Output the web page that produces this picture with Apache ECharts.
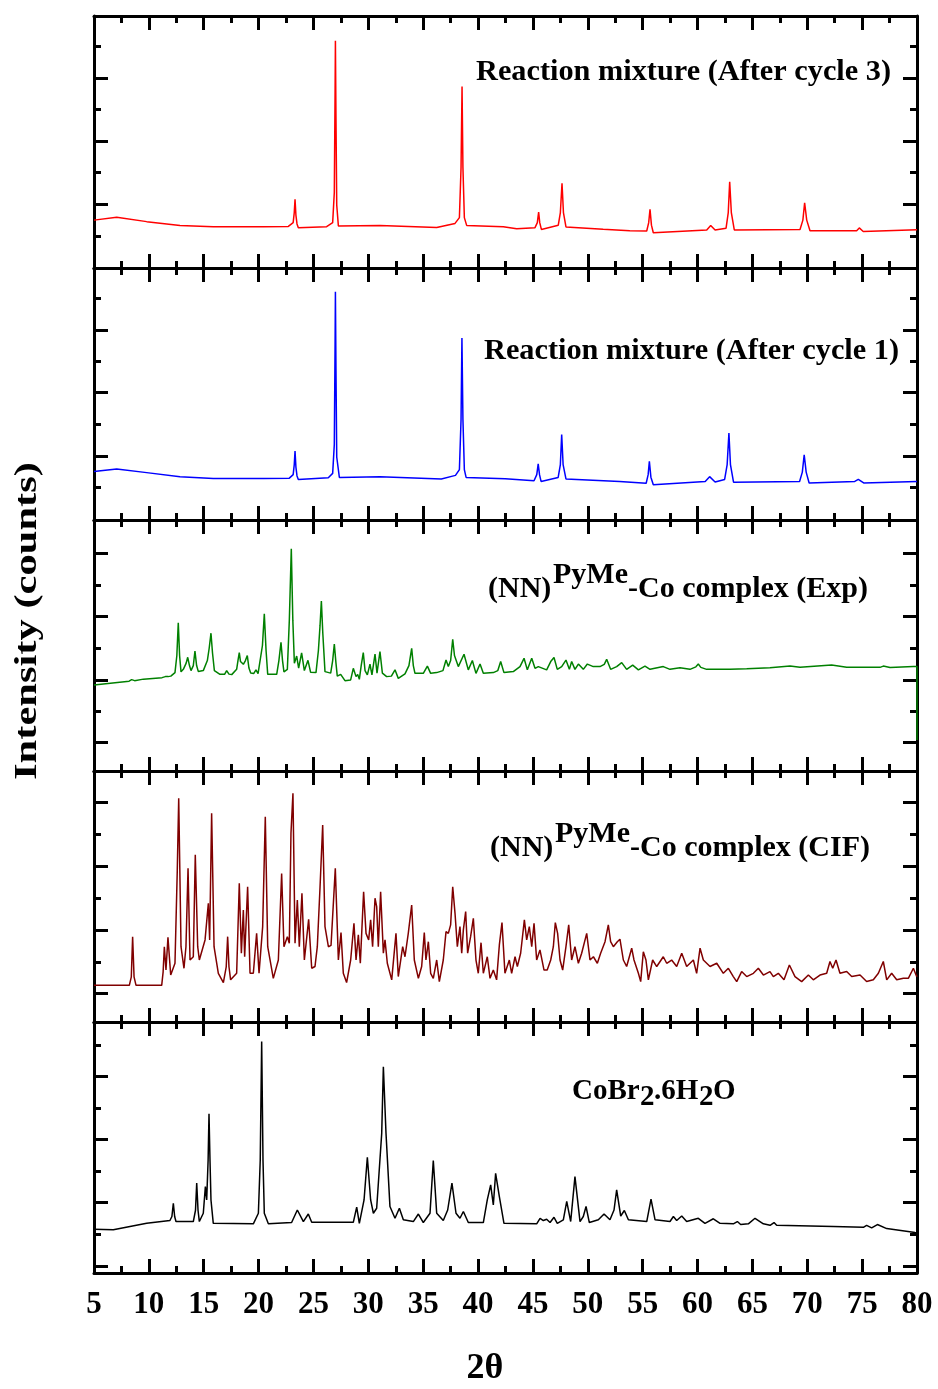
<!DOCTYPE html>
<html><head><meta charset="utf-8">
<script src="https://cdn.jsdelivr.net/npm/echarts@6/dist/echarts.min.js"></script>
<style>html,body{margin:0;padding:0;background:#fff}#c{width:938px;height:1389px}</style>
</head><body><div id="c"></div>
<script>
// ---- DATA (2θ in degrees, intensity in arbitrary units; each panel 0..100) ----
const xTickLabels = [5,10,15,20,25,30,35,40,45,50,55,60,65,70,75,80];

const cycle3 = [[5.0,19.0],[7.07,20.1],[9.8,18.4],[12.84,16.9],[15.87,16.4],[20.43,16.4],[22.71,16.5],[23.15,18],[23.25,22],[23.32,27.3],[23.4,21],[23.5,17.5],[23.62,16.0],[26.2,16.4],[26.75,18],[26.9,30],[26.97,70],[27.0,90.2],[27.05,60],[27.12,25],[27.27,16.7],[31.06,16.9],[36.23,16.1],[37.9,17.7],[38.3,20],[38.45,40],[38.54,72.0],[38.62,40],[38.75,20],[38.96,16.9],[42.3,16.4],[43.52,15.6],[45.19,16.0],[45.4,18],[45.52,22.2],[45.62,18],[45.77,15.3],[47.31,17.0],[47.5,22],[47.65,33.6],[47.78,22],[48.01,16.3],[51.4,15.4],[53.83,14.8],[55.37,14.7],[55.55,18],[55.67,23.3],[55.8,17],[55.97,14.0],[60.84,15.1],[61.2,16.9],[61.6,15.1],[62.6,15.8],[62.8,22],[62.93,34.2],[63.08,22],[63.35,15.1],[69.34,15.3],[69.6,19],[69.76,25.9],[69.95,19],[70.25,14.8],[74.5,14.8],[74.74,15.9],[75.1,14.5],[80,15.2]];

const cycle1 = [[5.0,19.2],[7.07,20.2],[9.8,18.8],[12.84,17.2],[15.87,16.5],[20.43,16.5],[22.8,16.6],[23.15,18],[23.25,22],[23.32,27.4],[23.4,21],[23.5,17.5],[23.62,16.1],[26.35,16.8],[26.75,18.5],[26.9,30],[26.97,70],[27.0,90.6],[27.05,60],[27.12,25],[27.36,16.9],[31.06,17.2],[36.65,16.3],[37.94,17.7],[38.3,20],[38.45,40],[38.53,72.2],[38.62,40],[38.75,20],[38.91,16.9],[42.48,16.4],[45.1,15.6],[45.35,18],[45.48,22.3],[45.6,18],[45.74,15.3],[47.3,16.9],[47.5,22],[47.62,33.9],[47.75,22],[48.01,16.3],[52.9,15.3],[55.32,14.6],[55.5,18],[55.61,23.3],[55.75,17],[55.97,14.0],[60.7,15.3],[61.1,17.2],[61.6,15.1],[62.47,16.1],[62.7,22],[62.86,34.5],[63.0,22],[63.28,15.0],[69.3,15.3],[69.55,19],[69.72,25.9],[69.9,19],[70.17,14.7],[74.33,15.3],[74.65,16.1],[75.14,14.7],[80,15.3]];

const complexExp = [[5.0,34.3],[8.2,35.8],[8.43,36.4],[8.7,36.0],[9.5,36.6],[11.2,37.2],[11.5,37.6],[11.62,38.3],[11.75,37.6],[12.0,37.8],[12.38,39.2],[12.55,46],[12.68,59.1],[12.8,46],[12.93,39.5],[13.14,40.5],[13.4,43],[13.54,45.3],[13.7,42],[13.84,40.0],[14.05,42],[14.2,47.8],[14.35,42],[14.51,39.6],[14.96,40.0],[15.33,44],[15.5,49],[15.66,54.9],[15.8,47],[15.97,40.0],[16.48,38.5],[16.9,38.5],[17.09,40.0],[17.3,38.6],[17.55,38.4],[18.0,40.5],[18.12,44],[18.24,47.2],[18.35,43.6],[18.46,43.2],[18.61,42.5],[18.8,44],[18.97,46.0],[19.12,41],[19.28,39.0],[19.55,38.8],[19.76,40.3],[19.95,38.8],[20.13,39.5],[20.35,50],[20.52,62.6],[20.68,48],[20.83,38.5],[21.65,38.5],[21.85,44],[22.04,51.3],[22.18,44],[22.31,39.5],[22.62,40.5],[22.8,60],[22.98,88.5],[23.12,60],[23.26,42.9],[23.47,45.8],[23.65,41.0],[23.92,47.1],[24.17,40.0],[24.5,44.1],[24.74,39.3],[25.23,39.2],[25.45,48],[25.6,58],[25.72,67.7],[25.85,55],[26.05,39.6],[26.57,39.0],[26.75,44],[26.9,50.6],[27.05,43],[27.17,37.8],[27.48,38.5],[27.87,36.0],[28.39,36.3],[28.63,40.9],[28.88,37.6],[29.03,38.5],[29.18,36.5],[29.35,42],[29.54,47.2],[29.7,40],[29.91,38.3],[30.15,42.6],[30.33,38.3],[30.61,46.6],[30.79,39.0],[31.06,47.6],[31.28,39.0],[31.43,39.7],[31.67,37.6],[32.1,37.8],[32.43,40.3],[32.73,36.9],[33.34,38.7],[33.7,42],[33.95,48.9],[34.1,42],[34.25,38.9],[35.01,38.9],[35.38,41.8],[35.68,38.9],[36.23,39.2],[36.8,40],[37.08,44.2],[37.29,41.6],[37.5,44],[37.69,52.5],[37.85,46],[37.99,45.6],[38.2,41.6],[38.72,46.5],[39.11,40.3],[39.48,44.0],[39.81,38.9],[40.18,42.6],[40.48,38.9],[41.39,39.2],[41.8,40],[42.06,43.6],[42.36,39.2],[43.21,39.6],[43.82,41.6],[44.19,44.9],[44.49,40.3],[44.89,44.9],[45.19,40.9],[45.49,41.6],[46.25,40.3],[46.62,43.6],[46.92,45.2],[47.22,40.5],[47.62,41.6],[48.01,44.2],[48.32,40.5],[48.53,43.6],[48.83,40.5],[49.14,42.6],[49.59,40.5],[49.96,42.6],[50.5,41.6],[51.11,41.6],[51.5,42.5],[51.72,44.5],[52.08,40.5],[52.63,41.6],[53.09,43.2],[53.54,40.5],[54.09,42.2],[54.61,40.3],[55.21,41.8],[55.67,40.5],[56.88,41.6],[57.49,40.5],[58.4,41.1],[59.31,40.5],[59.85,41.5],[60.07,42.6],[60.3,41.3],[60.83,40.5],[62.96,40.5],[64.48,40.7],[66.6,41.1],[68.43,41.8],[69.34,41.3],[72.22,42.2],[73.59,41.3],[76.63,41.3],[76.93,41.8],[77.54,41.2],[79.67,41.6],[80,41.6],[80,12.4]];

const complexCIF = [[5.0,14.6],[8.22,14.6],[8.4,18],[8.52,34.0],[8.65,18],[8.83,14.6],[11.17,14.6],[11.3,20],[11.41,30.0],[11.56,20.7],[11.74,33.7],[11.99,18.7],[12.38,23.4],[12.59,60.6],[12.72,89.1],[12.93,30.0],[13.2,21.4],[13.38,30.0],[13.57,61.2],[13.75,24.7],[14.05,26.0],[14.23,66.6],[14.45,30.0],[14.6,24.7],[15.12,32.7],[15.42,47.3],[15.54,32.7],[15.72,83.2],[15.94,30.0],[16.33,19.4],[16.79,15.7],[17.05,22],[17.18,34.0],[17.3,22],[17.45,16.8],[18.0,19.4],[18.24,55.3],[18.43,27.4],[18.61,44.6],[18.73,26.0],[19.0,53.9],[19.22,19.4],[19.52,19.4],[19.82,35.3],[20.04,19.4],[20.37,38.0],[20.61,81.8],[20.83,30.0],[21.34,17.4],[21.8,24.7],[22.1,59.2],[22.31,30.0],[22.62,34.0],[22.8,31.4],[22.95,75.2],[23.13,91.1],[23.32,31.4],[23.53,48.6],[23.71,30.0],[23.95,51.3],[24.17,24.7],[24.56,40.9],[24.84,21.4],[25.14,22.1],[25.35,30.0],[25.6,53.9],[25.84,78.5],[26.05,38.0],[26.36,30.0],[26.6,30.5],[26.99,61.2],[27.27,24.7],[27.51,35.6],[27.72,19.4],[28.02,15.7],[28.39,24.7],[28.69,39.3],[28.88,24.7],[29.09,34.7],[29.27,23.4],[29.57,51.9],[29.79,35.3],[30.03,32.7],[30.21,40.7],[30.39,30.0],[30.61,49.3],[30.76,46.0],[30.91,30.0],[31.12,51.9],[31.37,27.4],[31.52,32.7],[31.73,23.4],[32.13,16.8],[32.52,35.3],[32.73,18.1],[33.13,30.0],[33.34,26.0],[33.64,35.3],[33.95,46.6],[34.19,24.7],[34.56,17.4],[34.86,22.1],[35.1,35.6],[35.25,24.7],[35.47,32.0],[35.68,19.4],[35.92,17.4],[36.23,24.7],[36.47,16.1],[36.83,24.7],[37.08,36.0],[37.29,35.3],[37.5,38.7],[37.69,53.9],[37.9,43.3],[38.11,30.0],[38.35,38.0],[38.51,27.4],[38.66,36.7],[38.87,44.0],[39.05,27.4],[39.32,34.0],[39.57,41.3],[39.81,24.7],[40.02,19.4],[40.27,31.6],[40.48,19.4],[40.84,26.0],[41.09,17.4],[41.39,20.7],[41.69,16.8],[41.94,30.7],[42.18,39.6],[42.45,19.4],[42.85,24.7],[43.06,19.4],[43.37,26.0],[43.58,22.1],[43.88,27.4],[44.22,40.7],[44.43,32.7],[44.67,38.0],[44.89,30.0],[45.1,39.3],[45.34,24.7],[45.64,28.7],[46.01,20.7],[46.3,20.7],[46.62,24.7],[46.86,30.0],[47.04,39.6],[47.25,35.3],[47.47,24.7],[47.71,20.7],[48.01,30.0],[48.26,38.7],[48.53,24.7],[48.83,30.0],[49.14,23.4],[49.44,27.4],[49.9,35.3],[50.2,24.7],[50.51,26.0],[50.87,23.4],[51.17,27.4],[51.57,32.0],[51.87,38.7],[52.08,32.0],[52.33,30.0],[52.69,32.0],[52.93,33.0],[53.24,24.7],[53.54,22.1],[54.0,29.4],[54.21,24.7],[54.61,19.4],[54.82,16.1],[55.06,28.0],[55.3,24.7],[55.52,16.8],[55.91,24.7],[56.28,22.1],[56.88,26.0],[57.19,23.4],[57.64,24.7],[58.1,22.1],[58.56,27.4],[59.01,22.1],[59.62,24.7],[59.92,19.4],[60.23,29.4],[60.53,24.7],[61.14,22.1],[61.75,23.4],[62.35,19.4],[62.81,21.4],[63.26,18.1],[63.57,16.1],[64.02,20.1],[64.48,18.1],[65.09,19.4],[65.54,21.4],[66.0,18.7],[66.6,20.1],[66.91,18.1],[67.36,19.4],[67.88,16.8],[68.37,22.7],[68.88,18.1],[69.49,16.1],[70.1,18.7],[70.55,16.8],[71.16,18.7],[71.77,19.4],[72.07,24.1],[72.32,21.4],[72.62,24.7],[72.98,19.4],[73.59,20.1],[74.05,18.1],[74.81,18.7],[75.41,16.1],[76.02,16.8],[76.48,19.4],[76.93,24.1],[77.24,16.8],[77.69,19.4],[78.15,16.8],[78.76,17.4],[79.21,17.4],[79.67,21.4],[79.97,18.1],[80,18.5]];

const cobr2 = [[5.0,17.4],[6.76,17.2],[9.8,19.8],[11.92,20.9],[12.1,22.5],[12.23,27.8],[12.35,22.5],[12.47,20.5],[14.05,20.5],[14.25,25],[14.36,35.8],[14.48,25],[14.6,20.5],[14.96,23.8],[15.15,34.4],[15.27,29.1],[15.4,45],[15.48,63.4],[15.57,45],[15.66,29.1],[15.87,19.8],[19.52,19.6],[19.98,23.8],[20.15,45],[20.28,92.2],[20.4,45],[20.52,23.8],[20.89,19.6],[23.01,20.1],[23.53,25.1],[24.08,20.5],[24.53,23.5],[24.84,20.2],[28.63,20.2],[28.94,26.2],[29.18,19.8],[29.61,29.1],[29.91,46.1],[30.21,29.1],[30.46,23.8],[30.76,25.8],[30.94,26.5],[31.22,55.7],[31.37,82.2],[31.61,55.7],[31.97,26.5],[32.43,21.8],[32.83,25.8],[33.19,21.2],[34.1,20.5],[34.56,23.5],[35.01,20.1],[35.62,23.8],[35.92,44.8],[36.23,23.8],[36.83,20.9],[37.23,25.1],[37.62,35.8],[37.99,23.8],[38.35,21.8],[38.66,24.5],[39.11,20.1],[40.48,20.1],[40.84,29.1],[41.15,35.1],[41.39,27.1],[41.6,39.7],[41.94,30.4],[42.36,19.8],[45.34,19.6],[45.65,21.8],[45.95,20.9],[46.25,21.4],[46.56,20.1],[46.92,22.2],[47.22,19.8],[47.77,21.2],[48.08,28.5],[48.44,20.5],[48.83,38.4],[49.29,20.5],[49.59,22.5],[49.84,26.5],[50.14,20.1],[50.96,21.2],[51.48,23.5],[52.02,21.2],[52.39,25.1],[52.63,33.1],[53.0,22.7],[53.33,24.9],[53.7,21.2],[55.37,20.5],[55.76,29.4],[56.13,21.2],[57.49,20.5],[57.8,22.5],[58.1,20.9],[58.56,22.7],[59.01,20.5],[60.07,21.8],[60.68,19.8],[61.44,21.6],[62.05,19.8],[63.26,19.6],[63.63,20.5],[63.93,19.3],[64.63,19.6],[65.24,21.8],[66.0,19.6],[66.61,19.0],[66.97,20.1],[67.21,19.0],[72.38,18.5],[75.11,18.2],[75.41,19.0],[75.87,18.0],[76.39,19.3],[77.24,17.7],[79.82,16.1],[80,16.0]];

// y-axis tick values (in each panel's 0..100 intensity units)
const majorTicks = [[25.3,50.4,75.3],[25.4,50.5,75.4],[11.3,36.3,61.5,86.7],[11.4,36.7,61.9,87.4],[2.8,28.0,53.4,78.2]];
const minorTicks = [[12.7,37.8,63.0,87.8],[12.8,38.0,63.1,88.0],[23.9,49.1,74.1],[24.0,49.5,74.9],[15.5,40.6,65.7,90.8]];

const panels = [cycle3, cycle1, complexExp, complexCIF, cobr2];
const colors = ['#FF0000', '#0000FF', '#008000', '#800000', '#000000'];

// ---- LAYOUT ----
const tops = [16, 268, 520, 771, 1022];
const heights = [252, 252, 251, 251, 251];
const FONT = '"Liberation Serif", "Times New Roman", serif';

const grids = [], xAxes = [], yAxes = [], series = [];
panels.forEach((d, i) => {
  grids.push({left: 94, right: 21, top: tops[i], height: heights[i], containLabel: false});
  const isLast = i === panels.length - 1;
  const xBase = {
    gridIndex: i, type: 'value', min: 5, max: 80, interval: 5,
    axisLine: {show: true, onZero: false, lineStyle: {color: '#000', width: 3}},
    axisTick: {show: true, inside: true, length: 14, lineStyle: {color: '#000', width: 3}},
    minorTick: {show: true, splitNumber: 2, length: 7, lineStyle: {color: '#000', width: 3}},
    splitLine: {show: false}, minorSplitLine: {show: false}
  };
  xAxes.push(Object.assign({}, xBase, {
    position: 'bottom',
    axisLabel: isLast ? {show: true, color: '#000', fontFamily: FONT, fontWeight: 'bold', fontSize: 31, margin: 16,
      formatter: v => (xTickLabels.indexOf(v) >= 0 ? String(v) : '')} : {show: false}
  }));
  xAxes.push(Object.assign({}, xBase, {position: 'top', axisLabel: {show: false}}));
  const yBase = (pos, vals, len, line) => ({
    gridIndex: i, type: 'value', min: 0, max: 100, position: pos,
    axisLine: {show: line, onZero: false, lineStyle: {color: '#000', width: 3}},
    axisTick: {show: true, inside: true, length: len, customValues: vals, lineStyle: {color: '#000', width: 3}},
    axisLabel: {show: false}, splitLine: {show: false}
  });
  yAxes.push(yBase('left', majorTicks[i], 14, true));
  yAxes.push(yBase('left', minorTicks[i], 7, false));
  yAxes.push(yBase('right', majorTicks[i], 14, true));
  yAxes.push(yBase('right', minorTicks[i], 7, false));
  series.push({
    type: 'line', xAxisIndex: 2 * i, yAxisIndex: 4 * i, data: d,
    showSymbol: false, symbol: 'none', silent: true,
    lineStyle: {color: colors[i], width: 1.5}, itemStyle: {color: colors[i]}
  });
});

const txt = (x, y, text, size, extra) => Object.assign({
  type: 'text', x: x, y: y, silent: true,
  style: {text: text, font: 'bold ' + size + 'px ' + FONT, fill: '#000', textAlign: 'left', textVerticalAlign: 'middle'}
}, extra || {});

const graphic = [
  txt(476, 72, 'Reaction mixture (After cycle 3)', 30.3),
  txt(484, 351, 'Reaction mixture (After cycle 1)', 30.3),
  txt(488, 589, '(NN)', 30), txt(553, 575, 'PyMe', 30), txt(628, 589, '-Co complex (Exp)', 30),
  txt(490, 848, '(NN)', 30), txt(555, 834, 'PyMe', 30), txt(630, 848, '-Co complex (CIF)', 30),
  txt(572, 1092, 'CoBr', 29), txt(640, 1098, '2', 29), txt(654, 1092, '.6H', 29), txt(699, 1098, '2', 29), txt(713, 1092, 'O', 29),
  {type: 'text', x: 28, y: 621, rotation: Math.PI / 2, scaleX: 1.33, silent: true,
   style: {text: 'Intensity (counts)', font: 'bold 32px ' + FONT, fill: '#000', textAlign: 'center', textVerticalAlign: 'middle'}},
  {type: 'text', x: 485, y: 1369, silent: true,
   style: {text: '2θ', font: 'bold 36px ' + FONT, fill: '#000', textAlign: 'center', textVerticalAlign: 'middle'}}
];

const chart = echarts.init(document.getElementById('c'), null, {renderer: 'canvas'});
chart.setOption({
  animation: false,
  backgroundColor: '#fff',
  grid: grids, xAxis: xAxes, yAxis: yAxes, series: series, graphic: graphic
});
</script>
</body></html>
